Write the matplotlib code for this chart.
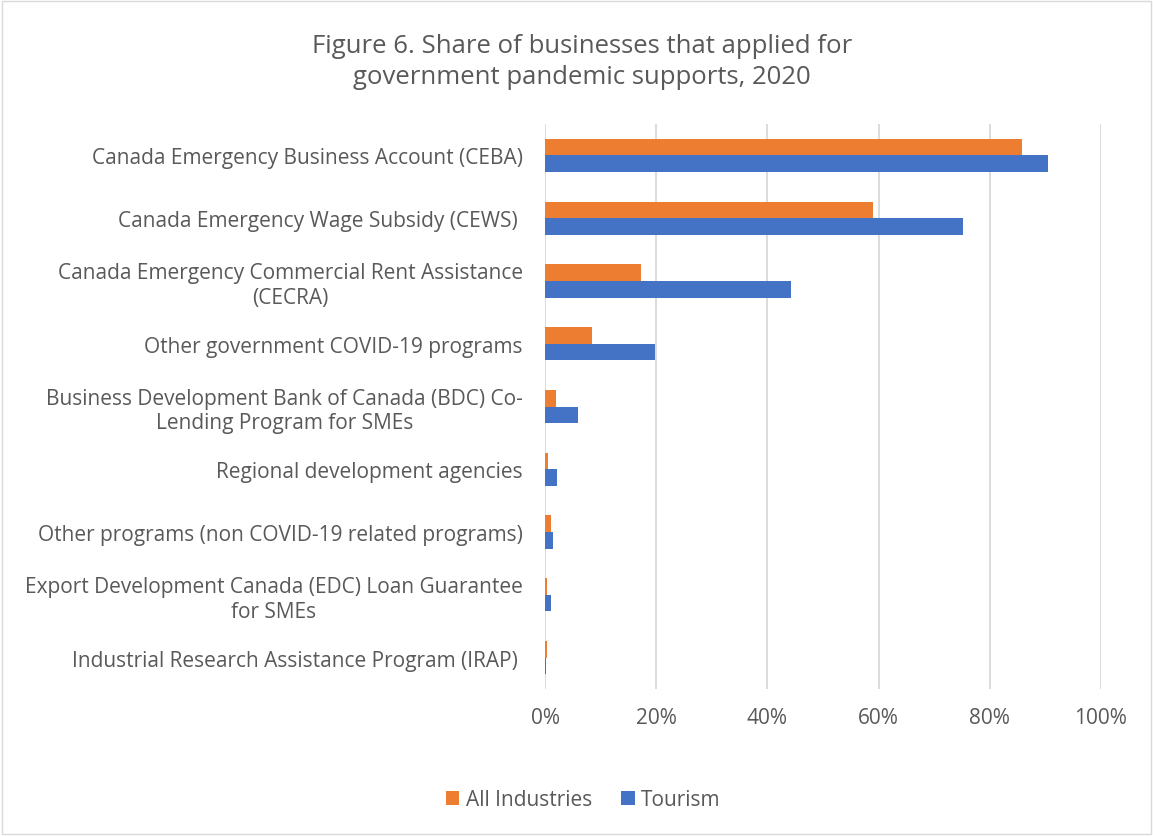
import matplotlib
matplotlib.use("Agg")
import matplotlib.pyplot as plt
import numpy as np
from matplotlib.ticker import PercentFormatter

# ── Data ─────────────────────────────────────────────────────────
programs = [
    "Canada Emergency Business Account (CEBA)",
    "Canada Emergency Wage Subsidy (CEWS) ",
    "Canada Emergency Commercial Rent Assistance\n(CECRA)",
    "Other government COVID-19 programs",
    "Business Development Bank of Canada (BDC) Co-\nLending Program for SMEs",
    "Regional development agencies",
    "Other programs (non COVID-19 related programs)",
    "Export Development Canada (EDC) Loan Guarantee\nfor SMEs",
    "Industrial Research Assistance Program (IRAP) ",
]
all_industries = [85.8, 59.0, 17.2, 8.5, 2.0, 0.6, 1.0, 0.4, 0.4]
tourism = [90.5, 75.1, 44.3, 19.8, 5.9, 2.2, 1.4, 1.1, 0.1]

ORANGE = "#ED7D31"
BLUE = "#4472C4"
TEXT = "#595959"

plt.rcParams["font.family"] = ["Open Sans", "DejaVu Sans"]

fig = plt.figure(figsize=(11.53, 8.37), dpi=100)
ax = fig.add_axes([545 / 1153, 1 - 690 / 837, (1101 - 545) / 1153, (690 - 125) / 837])

y = np.arange(len(programs))
h = 0.265
ax.barh(y - h / 2, all_industries, height=h, color=ORANGE, label="All Industries", zorder=3)
ax.barh(y + h / 2, tourism, height=h, color=BLUE, label="Tourism", zorder=3)

ax.set_xlim(0, 100)
ax.set_ylim(len(programs) - 0.5, -0.5)
ax.set_xticks(range(0, 101, 20))
ax.xaxis.set_major_formatter(PercentFormatter(decimals=0))
ax.set_yticks(y)
ax.set_yticklabels(programs, multialignment="center")
ax.tick_params(axis="both", length=0, colors=TEXT, labelsize=15)
ax.tick_params(axis="x", pad=13)
ax.tick_params(axis="y", pad=16)
ax.grid(axis="x", color="#D9D9D9", linewidth=1.3, zorder=0)
for s in ax.spines.values():
    s.set_visible(False)

fig.text(582 / 1153, 1 - 62 / 837, "Figure 6. Share of businesses that applied for\ngovernment pandemic supports, 2020",
         ha="center", va="center", fontsize=18.5, color=TEXT, linespacing=1.35)

fig.legend(loc="center", bbox_to_anchor=(583 / 1153, 1 - 801 / 837), ncol=2, frameon=False,
           fontsize=15, labelcolor=TEXT, handlelength=0.65, handleheight=0.65,
           handletextpad=0.3, columnspacing=1.4)

# light frame around the chart area
fig.patches.append(plt.Rectangle((0.002, 0.002), 0.996, 0.996, transform=fig.transFigure,
                                 fill=False, edgecolor="#D9D9D9", linewidth=1))

fig.savefig("out.png", dpi=100)
